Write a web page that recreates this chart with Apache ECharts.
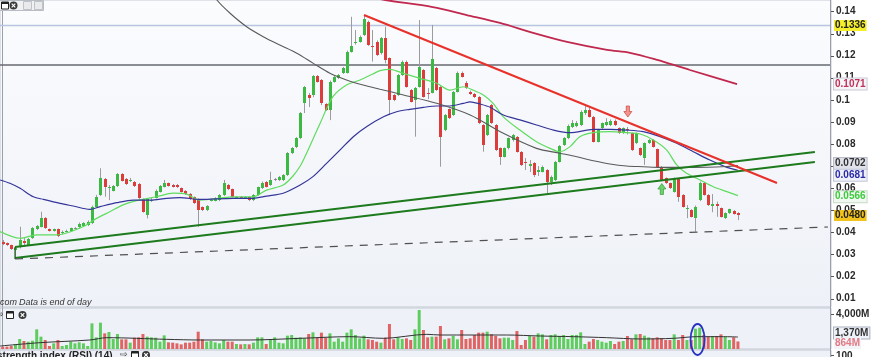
<!DOCTYPE html>
<html><head><meta charset="utf-8">
<script src="https://cdn.jsdelivr.net/npm/echarts@6/dist/echarts.min.js"></script>
<style>html,body{margin:0;padding:0;background:#fff}#c{width:880px;height:357px}</style>
</head><body><div id="c"></div>
<script>
// ---- price candles (weekly), index 0..173 ----
const openP = [.0358,.0350,.0341,.0320,.0335,.0362,.0342,.0373,.0413,.0425,
.0463,.0413,.0407,.0413,.0395,.0403,.0407,.0417,.0423,.0428,
.0433,.0441,.0516,.0569,.0640,.0603,.0588,.0609,.0664,.0640,
.0634,.0628,.0619,.0549,.0478,.0544,.0556,.0584,.0606,.0622,
.0614,.0614,.0599,.0588,.0573,.0558,.0549,.0513,.0501,.0544,
.0543,.0546,.0569,.0614,.0594,.0557,.0560,.0557,.0558,.0546,
.0569,.0599,.0629,.0614,.0638,.0637,.0637,.0659,.0758,.0787,
.0825,.0984,.1022,.1022,.1108,.1090,.0981,.0954,.1082,.1097,
.1120,.1123,.1218,.1256,.1263,.1293,.1354,.1244,.1263,.1211,
.1278,.1188,.1022,.1022,.1112,.1173,.1044,.0999,.1059,.1135,
.1031,.1032,.1143,.1059,.0863,.0957,.0931,.1037,.1123,.1075,
.1037,.1026,.1014,.0886,.0841,.0976,.0886,.0780,.0742,.0780,
.0818,.0833,.0765,.0718,.0702,.0715,.0675,.0674,.0682,.0629,
.0637,.0719,.0795,.0825,.0878,.0881,.0886,.0939,.0954,.0923,
.0810,.0871,.0886,.0886,.0905,.0871,.0848,.0866,.0848,.0803,
.0780,.0735,.0803,.0818,.0776,.0697,.0644,.0622,.0584,.0640,
.0568,.0505,.0501,.0463,.0546,.0624,.0569,.0521,.0526,.0509,
.0463,.0486,.0496,.0488];
const closeP = [.0349,.0342,.0324,.0329,.0365,.0350,.0368,.0418,.0427,.0463,
.0418,.0407,.0413,.0383,.0402,.0407,.0418,.0419,.0437,.0441,
.0448,.0516,.0561,.0644,.0604,.0607,.0609,.0664,.0633,.0617,
.0639,.0609,.0554,.0493,.0549,.0548,.0588,.0609,.0622,.0611,
.0606,.0604,.0584,.0573,.0551,.0531,.0501,.0501,.0519,.0548,
.0554,.0569,.0622,.0594,.0561,.0560,.0557,.0560,.0546,.0569,
.0604,.0624,.0606,.0637,.0640,.0649,.0659,.0758,.0780,.0825,
.0939,.1057,.1008,.1108,.1082,.0984,.0954,.1082,.1105,.1112,
.1143,.1218,.1244,.1263,.1286,.1365,.1248,.1239,.1203,.1278,
.1180,.0999,.0999,.1112,.1173,.1059,.0991,.1052,.1150,.1014,
.1026,.1183,.1044,.0833,.0931,.0916,.1037,.1123,.1105,.1052,
.1026,.1011,.0893,.0795,.0931,.0893,.0773,.0742,.0780,.0825,
.0841,.0765,.0705,.0712,.0707,.0659,.0680,.0697,.0629,.0652,
.0719,.0791,.0825,.0881,.0894,.0894,.0946,.0952,.0923,.0810,
.0863,.0894,.0901,.0905,.0886,.0848,.0871,.0861,.0773,.0848,
.0750,.0803,.0818,.0787,.0697,.0637,.0622,.0599,.0644,.0561,
.0516,.0510,.0470,.0516,.0624,.0569,.0523,.0526,.0521,.0470,
.0486,.0504,.0483,.0480];
const lowP = [.0342,.0338,.0320,.0279,.0327,.0335,.0338,.0370,.0410,.0422,
.0415,.0403,.0403,.0378,.0390,.0399,.0403,.0412,.0419,.0424,
.0428,.0437,.0512,.0564,.0561,.0546,.0585,.0605,.0630,.0614,
.0628,.0605,.0551,.0489,.0463,.0537,.0553,.0580,.0603,.0607,
.0603,.0600,.0580,.0569,.0546,.0528,.0425,.0496,.0496,.0540,
.0540,.0541,.0564,.0591,.0557,.0553,.0553,.0553,.0541,.0541,
.0564,.0596,.0603,.0610,.0632,.0632,.0632,.0655,.0754,.0781,
.0822,.0940,.0967,.1012,.1078,.0976,.0949,.0908,.1078,.1094,
.1117,.1119,.1214,.1250,.1259,.1289,.1244,.1173,.1198,.1205,
.1165,.0931,.0994,.1017,.1108,.1055,.0988,.0833,.1055,.1010,
.1003,.1029,.1040,.0697,.0858,.0913,.0927,.1033,.1101,.1049,
.1022,.1008,.0890,.0765,.0836,.0890,.0768,.0705,.0739,.0775,
.0811,.0761,.0700,.0682,.0673,.0650,.0655,.0671,.0576,.0614,
.0632,.0716,.0791,.0822,.0872,.0876,.0881,.0931,.0920,.0807,
.0807,.0867,.0881,.0881,.0881,.0845,.0845,.0843,.0768,.0800,
.0745,.0705,.0800,.0784,.0693,.0632,.0619,.0596,.0580,.0538,
.0512,.0464,.0467,.0403,.0541,.0566,.0519,.0491,.0470,.0467,
.0460,.0483,.0480,.0455];
const highP = [.0365,.0354,.0344,.0333,.0425,.0374,.0374,.0424,.0433,.0493,
.0469,.0417,.0417,.0417,.0408,.0412,.0421,.0423,.0444,.0446,
.0454,.0521,.0569,.0690,.0646,.0614,.0614,.0668,.0668,.0646,
.0646,.0632,.0623,.0553,.0553,.0555,.0594,.0614,.0637,.0625,
.0619,.0619,.0603,.0591,.0578,.0562,.0553,.0517,.0523,.0553,
.0559,.0573,.0637,.0619,.0598,.0564,.0564,.0564,.0562,.0573,
.0607,.0630,.0632,.0674,.0646,.0655,.0664,.0763,.0786,.0831,
.0945,.1062,.1031,.1112,.1112,.1094,.0985,.1087,.1110,.1117,
.1149,.1223,.1376,.1316,.1291,.1380,.1359,.1316,.1269,.1284,
.1331,.1192,.1026,.1117,.1178,.1178,.1049,.1058,.1361,.1139,
.1053,.1339,.1149,.1062,.0936,.0961,.1040,.1128,.1128,.1085,
.1042,.1031,.1017,.0890,.0936,.0981,.0890,.0784,.0784,.0829,
.0845,.0836,.0768,.0736,.0727,.0718,.0700,.0702,.0686,.0657,
.0723,.0795,.0831,.0888,.0908,.0904,.0952,.0972,.0963,.0927,
.0868,.0897,.0917,.0911,.0911,.0875,.0875,.0877,.0852,.0852,
.0784,.0807,.0822,.0822,.0779,.0700,.0648,.0625,.0648,.0643,
.0573,.0523,.0505,.0521,.0630,.0628,.0573,.0573,.0539,.0512,
.0490,.0507,.0501,.0491];
// ---- volume (millions) ----
const volume = [267,267,343,571,1143,914,838,952,2248,1410,
1029,343,648,1029,343,457,838,648,762,648,
343,2933,1333,3010,1790,1943,1143,1714,1105,1105,
724,1295,1333,1714,1410,1333,1295,838,1562,762,
724,648,533,724,724,838,1981,1105,838,914,
762,648,1029,838,838,571,533,571,533,724,
1333,1333,571,1029,1333,724,648,1524,1600,1295,
1333,1219,1714,1905,1295,1867,1295,1790,838,1219,
838,1867,2248,1600,1219,1524,1105,1029,838,724,
1295,2857,1105,1333,1143,1219,1029,2248,4457,2171,
1333,1410,1410,2629,1105,1219,1486,1105,2171,1143,
1219,1600,1867,1867,1981,1676,1486,1219,1295,1295,
1029,2057,457,1029,1486,1410,1790,1676,1105,1600,
1676,1486,1600,1143,1600,1600,1905,571,838,1143,
1029,838,724,914,571,838,914,1486,1105,1676,
1714,1524,1333,1219,1333,1219,1029,1029,1676,1029,
1600,1029,1029,2324,2438,1600,1410,1486,1486,1676,
1410,1029,1333,864];
const volAvg = [[-0.6,343],[8.8,724],[20.5,1029],[24.5,1295],[38.6,1105],[46.4,1029],[58.2,1029],[70,1219],[81.7,1410],[89.6,1219],[99.8,1676],[102.9,1600],[110.7,1600],[118.6,1600],[126.4,1486],[134.3,1410],[142.1,1295],[150,1143],[157.8,1219],[163.3,1410],[169.6,1410],[173,1370]];
// ---- moving averages [index, value] ----
const maGreen = [[-0.6,0.0403],[4.1,0.0373],[8.0,0.0388],[12.7,0.0388],[18.9,0.0425],[22.1,0.0463],[25.2,0.0493],[28.3,0.0524],[31.5,0.0543],[36.2,0.0561],[40.1,0.0577],[43.3,0.0573],[46.4,0.0546],[54.2,0.0560],[58.9,0.0560],[62.1,0.0591],[66.0,0.0614],[68.3,0.0655],[70.0,0.0700],[71.5,0.0758],[74.7,0.0894],[77.7,0.1014],[80.9,0.1067],[84.1,0.1090],[87.1,0.1117],[88.8,0.1132],[91.1,0.1138],[94.3,0.1120],[98.2,0.1097],[102.1,0.1075],[105.2,0.1044],[108.4,0.1059],[110.7,0.1044],[113.1,0.1022],[115.4,0.0984],[117.8,0.0923],[121.7,0.0863],[125.6,0.0810],[128.8,0.0780],[131.1,0.0765],[133.5,0.0788],[135.8,0.0833],[139.0,0.0851],[142.9,0.0856],[146.8,0.0851],[150.0,0.0845],[153.1,0.0818],[156.2,0.0773],[158.6,0.0705],[160.9,0.0667],[164.1,0.0637],[167.2,0.0606],[170.4,0.0584],[173.0,0.0566]];
const maBlue = [[-0.6,0.0637],[1.7,0.0622],[4.1,0.0599],[7.2,0.0561],[9.6,0.0549],[13.5,0.0531],[16.6,0.0519],[20.5,0.0504],[22.9,0.0516],[26.8,0.0534],[30.7,0.0546],[34.7,0.0546],[38.6,0.0554],[41.7,0.0557],[46.4,0.0549],[54.2,0.0554],[58.9,0.0554],[62.1,0.0564],[66.0,0.0577],[70.0,0.0614],[73.0,0.0652],[76.2,0.0712],[79.4,0.0773],[82.5,0.0833],[85.6,0.0878],[89.6,0.0923],[92.7,0.0946],[95.8,0.0957],[99.0,0.0966],[102.1,0.0972],[105.2,0.0972],[108.4,0.0984],[110.0,0.0991],[112.3,0.0981],[114.7,0.0966],[117.8,0.0931],[121.7,0.0909],[125.6,0.0886],[129.6,0.0863],[133.5,0.0851],[139.0,0.0866],[142.9,0.0866],[146.8,0.0863],[150.7,0.0856],[154.7,0.0833],[158.6,0.0803],[162.5,0.0765],[166.4,0.0727],[170.4,0.0694],[173.0,0.0681]];
const maGray = [[50.0,0.1475],[50.4,0.1452],[53.5,0.1392],[57.4,0.1331],[61.3,0.1286],[65.2,0.1248],[69.2,0.1211],[73.1,0.1165],[77.0,0.1120],[80.9,0.1090],[84.8,0.1067],[88.8,0.1048],[94.3,0.1022],[102.1,0.0984],[110.0,0.0931],[117.8,0.0848],[125.6,0.0780],[131.1,0.0758],[135.1,0.0742],[139.0,0.0724],[142.9,0.0709],[146.8,0.0700],[150.7,0.0697],[154.7,0.0694],[162.5,0.0694],[170.4,0.0698],[173.0,0.0702]];
const maCrimson = [[86.5,0.1466],[90.0,0.1452],[101.2,0.1420],[109.2,0.1384],[117.0,0.1348],[124.8,0.1303],[132.8,0.1262],[142.2,0.1226],[147.6,0.1213],[154.0,0.1181],[159.4,0.1149],[161.7,0.1135],[172.8,0.1071]];
// ---- drawn trend lines & levels ----
const trendRed = [[85.0,0.1384],[182.2,0.0623]];
const trendGreenUpper = [[2.9,0.0333],[191.1,0.0764]];
const trendGreenLower = [[2.9,0.0284],[191.1,0.0718]];
const trendBracket = [[2.9,0.0333],[2.9,0.0279]];
const trendDashed = [[2.9,0.0279],[194.2,0.0424]];
const levelBlue = 0.1336;
const levelGray = 0.1158;
const arrowDown = [147.1,0.0947];
const arrowUp = [155.1,0.0596];
const circledBars = [163.5];
// ---- axis ticks ----
const priceTicks = [0.01,0.02,0.03,0.04,0.05,0.06,0.07,0.08,0.09,0.1,0.11,0.12,0.13,0.14];
const volTicks = [4000];

const X_MIN = -0.635, X_MAX = 194.9;
const FONT = 'Liberation Sans, Arial, sans-serif';
const chart = echarts.init(document.getElementById('c'));

const candleData = closeP.map((c, i) => [i, openP[i], c, lowP[i], highP[i]]);
const volData = volume.map((v, i) => ({value: [i, v], itemStyle: {color: closeP[i] >= openP[i] ? '#5fcc5f' : '#e06464'}}));
const lineS = (data, color, width, extra) => Object.assign({
  type: 'line', data, xAxisIndex: 0, yAxisIndex: 0, showSymbol: false, symbol: 'none',
  lineStyle: {color, width}, silent: true, z: 4, animation: false
}, extra || {});

const option = {
  animation: false,
  backgroundColor: '#ffffff',
  grid: [
    {left: 0, right: 49, top: 0, height: 307, show: true,
     backgroundColor: {type: 'linear', x: 0, y: 0, x2: 0, y2: 1, colorStops: [{offset: 0, color: '#fbfcfe'}, {offset: 1, color: '#eef1f7'}]},
     borderColor: '#c3c8d2', borderWidth: 1},
    {left: 0, right: 49, top: 308, height: 41, show: true, backgroundColor: '#eef2f8', borderColor: '#c3c8d2', borderWidth: 1}
  ],
  xAxis: [
    {type: 'value', gridIndex: 0, min: X_MIN, max: X_MAX, show: false},
    {type: 'value', gridIndex: 1, min: X_MIN, max: X_MAX, show: false}
  ],
  yAxis: [
    {type: 'value', gridIndex: 0, position: 'right', min: 0.00616, max: 0.1452,
     splitLine: {show: false},
     axisLine: {show: true, lineStyle: {color: '#9aa0aa'}},
     axisTick: {show: false},
     axisLabel: {customValues: priceTicks, formatter: v => String(+(+v).toFixed(2)), color: '#2a2a2a', fontSize: 10, fontWeight: 'bold', fontFamily: FONT, margin: 5}},
    {type: 'value', gridIndex: 1, position: 'right', min: 0, max: 4686,
     splitLine: {show: false},
     axisLine: {show: true, lineStyle: {color: '#9aa0aa'}},
     axisTick: {show: false},
     axisLabel: {customValues: volTicks, formatter: v => Number(v).toLocaleString('en-US') + 'M', color: '#2a2a2a', fontSize: 10, fontWeight: 'bold', fontFamily: FONT, margin: 5}}
  ],
  series: [
    lineS([[X_MIN, levelBlue], [X_MAX, levelBlue]], '#b7c6de', 1.5, {z: 2}),
    lineS([[X_MIN, levelGray], [X_MAX, levelGray]], '#666a70', 1.5, {z: 2}),
    {
      type: 'custom', xAxisIndex: 0, yAxisIndex: 0, data: candleData, z: 3,
      encode: {x: 0, y: [1, 2, 3, 4]},
      renderItem: function (params, api) {
        const i = api.value(0), o = api.value(1), c = api.value(2), l = api.value(3), h = api.value(4);
        const pO = api.coord([i, o]), pC = api.coord([i, c]), pL = api.coord([i, l]), pH = api.coord([i, h]);
        const xc = Math.round(pO[0]);
        const top = Math.round(Math.min(pO[1], pC[1]));
        const bot = Math.round(Math.max(pO[1], pC[1]));
        const doji = Math.abs(c - o) < 0.00025;
        const fill = doji ? '#8c8c8c' : (c >= o ? '#3bb943' : '#dc3d3b');
        return {type: 'group', children: [
          {type: 'line', shape: {x1: xc + 0.5, y1: pH[1], x2: xc + 0.5, y2: pL[1]}, style: {stroke: '#9c9c9c', lineWidth: 1}},
          {type: 'rect', shape: {x: xc - 1, y: top, width: 3, height: Math.max(1, bot - top)}, style: {fill: fill}}
        ]};
      }
    },
    lineS(maGreen, '#5fdc5f', 1.2, {smooth: 0.3}),
    lineS(maBlue, '#34349a', 1.2, {smooth: 0.3}),
    lineS(maGray, '#5a5a5a', 1.1, {smooth: 0.3}),
    lineS(maCrimson, '#c0284e', 1.8, {smooth: 0.3}),
    lineS(trendGreenUpper, '#1d7a1d', 2, {z: 5}),
    lineS(trendGreenLower, '#1d7a1d', 2, {z: 5}),
    lineS(trendBracket, '#1d5a1d', 1.2, {z: 5}),
    lineS(trendDashed, '#505050', 1.2, {z: 5, lineStyle: {color: '#505050', width: 1.2, type: [8, 7]}}),
    lineS(trendRed, '#e8312a', 2, {z: 6}),
    {
      type: 'scatter', xAxisIndex: 0, yAxisIndex: 0, z: 7, silent: true,
      data: [
        {value: arrowDown, symbol: 'path://M3,0L7,0L7,6L10,6L5,12L0,6L3,6Z', symbolSize: [8, 11], itemStyle: {color: '#f07a72', borderColor: '#c83a32', borderWidth: 0.8}},
        {value: arrowUp, symbol: 'path://M5,0L10,6L7,6L7,12L3,12L3,6L0,6Z', symbolSize: [8, 11], itemStyle: {color: '#4cc84c', borderColor: '#2c962c', borderWidth: 0.8}}
      ]
    },
    {type: 'bar', xAxisIndex: 1, yAxisIndex: 1, data: volData, barWidth: 3, silent: true, z: 3},
    {type: 'line', xAxisIndex: 1, yAxisIndex: 1, data: volAvg, showSymbol: false, symbol: 'none', smooth: 0.3, lineStyle: {color: '#333333', width: 1}, silent: true, z: 4}
  ]
};
chart.setOption(option);

// ---- value tags, ticks and annotations positioned through the axes ----
const yP = v => chart.convertToPixel({yAxisIndex: 0}, v);
const yV = v => chart.convertToPixel({yAxisIndex: 1}, v);
const xV = v => chart.convertToPixel({xAxisIndex: 1}, v);
const last = a => a[a.length - 1][1];
const f4 = v => v.toFixed(4);
const tag = (y, text, bg, fg, border) => ({
  type: 'text', x: 834, y: y, z: 100,
  style: {text: text, fill: fg, font: 'bold 10px ' + FONT, backgroundColor: bg, borderColor: border, borderWidth: border ? 1 : 0,
          padding: [1, 1, 0, 1], align: 'left', verticalAlign: 'middle'}
});
const tick = y => ({type: 'line', shape: {x1: 831, y1: Math.round(y) + 0.5, x2: 834, y2: Math.round(y) + 0.5}, style: {stroke: '#555', lineWidth: 1}, z: 60});
const T = (x, y, text, font, fill, align, va) => ({type: 'text', x, y, z: 100, style: {text, font, fill, align: align || 'left', verticalAlign: va || 'middle'}});
const win = (x, y) => ([
  {type: 'rect', shape: {x: x + 0.5, y: y + 0.5, width: 7, height: 7}, style: {fill: '#ffffff', stroke: '#222', lineWidth: 1}, z: 100},
  {type: 'rect', shape: {x: x + 0.5, y: y + 0.5, width: 7, height: 2}, style: {fill: '#222'}, z: 100}
]);
const closeIcon = (cx, cy) => ([
  {type: 'circle', shape: {cx, cy, r: 4}, style: {fill: '#3a3a3a'}, z: 100},
  {type: 'line', shape: {x1: cx - 1.8, y1: cy - 1.8, x2: cx + 1.8, y2: cy + 1.8}, style: {stroke: '#fff', lineWidth: 1.2}, z: 101},
  {type: 'line', shape: {x1: cx + 1.8, y1: cy - 1.8, x2: cx - 1.8, y2: cy + 1.8}, style: {stroke: '#fff', lineWidth: 1.2}, z: 101}
]);

const elements = [
  // RSI panel strip
  {type: 'rect', shape: {x: 0, y: 350, width: 831, height: 8}, style: {fill: '#eef1f7', stroke: '#c3c8d2', lineWidth: 1}, z: 50},
  {type: 'line', shape: {x1: 830.5, y1: 0, x2: 830.5, y2: 357}, style: {stroke: '#9aa0aa', lineWidth: 1}, z: 51},
  T(-3, 351, 'strength index (RSI) (14)', 'bold 10px ' + FONT, '#222', 'left', 'top'),
  T(-3, 351, 'Relative ', 'bold 10px ' + FONT, '#222', 'right', 'top'),
  T(836, 351, '100', 'bold 10px ' + FONT, '#2a2a2a', 'left', 'top'),
  tick(355),
  // caption
  T(17, 302, 'IncredibleCharts.com', 'italic 9px ' + FONT, '#333', 'right'),
  T(19, 302, 'Data is end of day', 'italic 9px ' + FONT, '#333', 'left'),
  // top toolbar
  {type: 'rect', shape: {x: -0.5, y: 0.5, width: 44, height: 10}, style: {fill: '#f0f1f3', stroke: '#b8bcc4', lineWidth: 1}, z: 99},
  ...win(1, 1.5),
  ...closeIcon(13.5, 5.5),
  {type: 'rect', shape: {x: 23.5, y: 1.5, width: 8, height: 8}, style: {fill: '#e9eaec', stroke: '#c0c2c6', lineWidth: 1}, z: 100},
  {type: 'rect', shape: {x: 34.5, y: 1.5, width: 8, height: 8}, style: {fill: '#e9eaec', stroke: '#c0c2c6', lineWidth: 1}, z: 100},
  // volume toolbar
  T(-4, 315, '⇨', '9px ' + FONT, '#333', 'left'),
  ...win(6, 311),
  ...closeIcon(22.5, 315),
  // rsi toolbar
  T(120, 355, '⇨', '9px ' + FONT, '#333', 'left'),
  ...win(131, 351),
  ...closeIcon(146, 355),
  // axis ticks
  ...priceTicks.map(v => tick(yP(v))),
  ...volTicks.map(v => tick(yV(v))),
  // price tags (nudged apart where they would collide, like the original)
  tag(yP(levelBlue), f4(levelBlue), '#f4ee2c', '#222', null),
  tag(yP(last(maCrimson)), f4(last(maCrimson)), '#f5f5f8', '#c0305a', '#c9cad6'),
  tag(yP(last(maGray)) - 2, f4(last(maGray)), '#dfe2ea', '#333', '#b8bcc8'),
  tag(yP(last(maBlue)) + 5, f4(last(maBlue)), '#eef0f8', '#2a2aa8', '#c2c6d8'),
  tag(yP(last(maGreen)) + 1, f4(last(maGreen)), '#f1f8f1', '#3ccb3c', '#c8dac8'),
  tag(yP(closeP[closeP.length - 1]) + 1, f4(closeP[closeP.length - 1]), '#f2c31c', '#222', null),
  // volume tags
  tag(yV(last(volAvg)) - 4, last(volAvg).toLocaleString('en-US') + 'M', '#eef1f8', '#333', '#aab0c0'),
  tag(yV(volume[volume.length - 1]) + 2, volume[volume.length - 1] + 'M', '#f3f4f8', '#e27a86', null),
  // hand-drawn circle around volume bars
  {type: 'ellipse', shape: {cx: xV(circledBars[0]), cy: 339.5, rx: 7, ry: 15.5}, style: {fill: 'none', stroke: '#2632c4', lineWidth: 1.8}, z: 102}
];
chart.setOption({graphic: {elements}});
</script>
</body></html>
